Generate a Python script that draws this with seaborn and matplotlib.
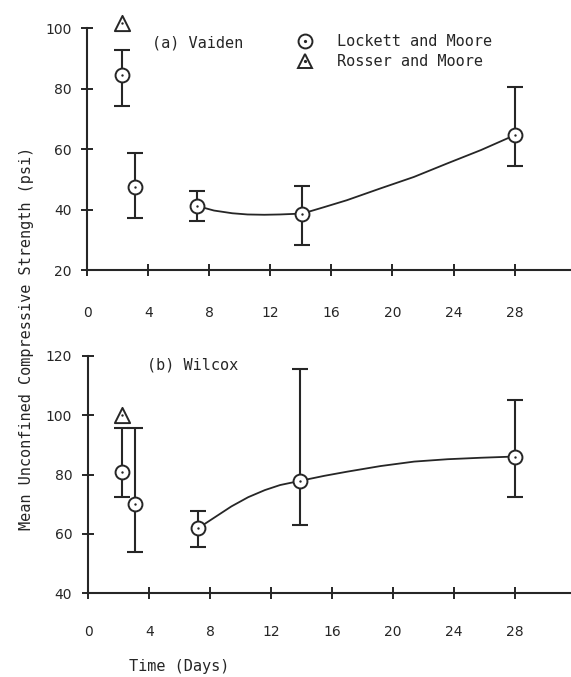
import numpy as np
import pandas as pd
import matplotlib as mpl
import matplotlib.pyplot as plt
import seaborn as sns
from matplotlib.lines import Line2D
from matplotlib.legend_handler import HandlerTuple

sns.set_style("ticks")
ink = "#262626"
mpl.rcParams["font.family"] = ["DejaVu Sans"]
mpl.rcParams["text.color"] = ink
mpl.rcParams["xtick.color"] = ink
mpl.rcParams["ytick.color"] = ink
mono = "DejaVu Sans Mono"

# (a) Vaiden
days_a = [2.3, 3.1, 7.2, 14.1, 28.0]
mean_a = [84.5, 47.5, 41.2, 38.7, 64.6]
low_a = [74.2, 37.1, 36.3, 28.3, 54.5]
high_a = [92.7, 58.6, 46.2, 47.9, 80.6]
rosser_day_a = [2.3]
rosser_a = [101.8]
curve_days_a = [7.2, 8.3, 9.5, 10.5, 11.6, 12.6, 14.1, 15.5, 17.0, 19.2, 21.4, 23.6, 25.8, 28.0]
curve_vals_a = [41.2, 39.7, 38.8, 38.4, 38.3, 38.4, 38.7, 40.8, 43.1, 47.0, 50.8, 55.3, 59.7, 64.6]

# (b) Wilcox
days_b = [2.2, 3.1, 7.2, 13.9, 28.0]
mean_b = [81.0, 70.0, 61.9, 77.9, 86.1]
low_b = [72.6, 54.0, 55.7, 62.9, 72.6]
high_b = [95.8, 95.8, 67.8, 115.7, 105.0]
rosser_day_b = [2.2]
rosser_b = [100.1]
curve_days_b = [7.2, 8.3, 9.4, 10.5, 11.6, 12.6, 13.9, 15.5, 17.0, 19.2, 21.4, 23.6, 25.8, 28.0]
curve_vals_b = [61.9, 65.6, 69.3, 72.4, 74.8, 76.5, 77.9, 79.6, 81.0, 82.9, 84.4, 85.2, 85.7, 86.1]

x_ticks = [0, 4, 8, 12, 16, 20, 24, 28]


def panel(ax, days, mean, low, high, rday, rval, cdays, cvals, ylim, yticks, label, lab_xy, xpad):
    lock = pd.DataFrame({"day": days, "psi": mean})
    ross = pd.DataFrame({"day": rday, "psi": rval})
    curve = pd.DataFrame({"day": cdays, "psi": cvals})
    yerr = [np.array(mean) - np.array(low), np.array(high) - np.array(mean)]

    sns.lineplot(data=curve, x="day", y="psi", color=ink, linewidth=1.3, ax=ax, zorder=2)
    ax.errorbar(days, mean, yerr=yerr, fmt="none", ecolor=ink, elinewidth=1.5,
                capsize=6, capthick=1.5, zorder=2)
    sns.scatterplot(data=lock, x="day", y="psi", marker="o", s=100, facecolor="white",
                    edgecolor=ink, linewidth=1.4, ax=ax, zorder=3)
    sns.scatterplot(data=ross, x="day", y="psi", marker="^", s=120, facecolor="white",
                    edgecolor=ink, linewidth=1.4, ax=ax, zorder=3, clip_on=False)
    both = pd.concat([lock, ross])
    sns.scatterplot(data=both, x="day", y="psi", marker="o", s=3, color=ink,
                    linewidth=0, ax=ax, zorder=4, clip_on=False)

    ax.set_xlim(0, 31.7)
    ax.set_ylim(*ylim)
    ax.set_xticks(x_ticks)
    ax.set_yticks(yticks)
    ax.set_xlabel("")
    ax.set_ylabel("")
    for s in ["top", "right"]:
        ax.spines[s].set_visible(False)
    for s in ["left", "bottom"]:
        ax.spines[s].set_linewidth(1.5)
        ax.spines[s].set_color(ink)
    ax.tick_params(axis="x", direction="inout", length=9, width=1.4, pad=xpad, labelsize=10)
    ax.tick_params(axis="y", direction="inout", length=9, width=1.4, pad=7, labelsize=10)
    ax.text(lab_xy[0], lab_xy[1], label, transform=ax.transAxes, family=mono,
            fontsize=11, va="center", ha="left")


fig = plt.figure(figsize=(5.71, 6.77), dpi=100)
ax1 = fig.add_axes([0.153, 0.601, 0.847, 0.3574])
ax2 = fig.add_axes([0.1546, 0.1236, 0.8454, 0.3506])

panel(ax1, days_a, mean_a, low_a, high_a, rosser_day_a, rosser_a, curve_days_a, curve_vals_a,
      (20, 100), [20, 40, 60, 80, 100], "(a) Vaiden", (0.134, 0.938), 21)
panel(ax2, days_b, mean_b, low_b, high_b, rosser_day_b, rosser_b, curve_days_b, curve_vals_b,
      (40, 120), [40, 60, 80, 100, 120], "(b) Wilcox", (0.121, 0.962), 18)

# legend: open marker with a centre dot
h_lock = (Line2D([], [], marker="o", ls="none", ms=10, mfc="white", mec=ink, mew=1.4),
          Line2D([], [], marker="o", ls="none", ms=1.3, color=ink))
h_ross = (Line2D([], [], marker="^", ls="none", ms=10.5, mfc="white", mec=ink, mew=1.4),
          Line2D([], [], marker="o", ls="none", ms=1.3, color=ink))
fig.legend([h_lock, h_ross], ["Lockett and Moore", "Rosser and Moore"],
           handler_map={tuple: HandlerTuple(ndivide=1, pad=0)},
           loc="upper left", bbox_to_anchor=(0.521, 0.950), frameon=False,
           prop={"family": mono, "size": 11}, handlelength=1.0, handletextpad=1.6,
           labelspacing=0.35, borderpad=0, borderaxespad=0)

fig.text(27 / 571, 1 - 338 / 677, "Mean Unconfined Compressive Strength (psi)",
         rotation=90, ha="center", va="center", family=mono, fontsize=11)
fig.text(179 / 571, 1 - 667 / 677, "Time (Days)", ha="center", va="center",
         family=mono, fontsize=11)

fig.savefig("out.png", dpi=100)
